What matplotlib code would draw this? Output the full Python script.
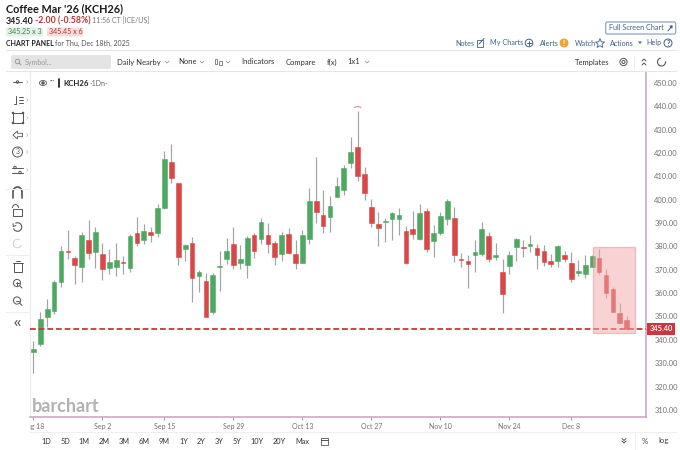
import matplotlib
matplotlib.use('Agg')
import matplotlib.pyplot as plt
from matplotlib.patches import Rectangle, FancyBboxPatch, Circle, Polygon, Arc
from matplotlib.transforms import Bbox, ScaledTranslation

plt.rcParams['font.family'] = ['Lato', 'DejaVu Sans']

GREEN = '#4fa862'
RED = '#d84848'
WICK = '#a3a3a3'
FRAME = '#c8a9c6'
NAVY = '#3f6288'
DARK = '#333333'
ICON = '#555555'

opens = [335.5, 339.0, 350.8, 353.1, 365.6, 378.9, 375.8, 371.9, 383.6, 378.6,
         377.8, 371.6, 372.2, 374.4, 371.8, 386.6, 383.5, 386.9, 386.8, 397.3,
         417.0, 407.8, 379.6, 382.5, 368.1, 366.2, 352.7, 372.1, 375.6, 381.8,
         373.9, 373.1, 385.9, 384.1, 385.6, 382.4, 377.6, 386.2, 377.5, 373.9,
         384.1, 400.3, 394.5, 393.6, 402.0, 404.9, 416.7, 423.6, 411.7, 397.8,
         390.6, 391.5, 392.8, 392.8, 387.3, 388.2, 384.1, 396.2, 383.3, 386.5,
         392.8, 393.2, 375.6, 374.6, 377.2, 377.8, 385.2, 376.3, 370.1, 372.6,
         380.5, 380.8, 381.2, 380.3, 379.1, 374.8, 374.8, 377.3, 373.9, 369.5,
         369.2, 372.2, 375.8, 368.6, 362.7, 352.2, 349.4]
highs = [340.4, 352.7, 358.4, 366.5, 380.9, 387.9, 376.8, 387.1, 392.1, 389.2,
         382.5, 379.6, 382.4, 376.8, 386.3, 393.6, 390.5, 389.3, 399.0, 421.9,
         424.7, 407.9, 381.9, 385.1, 370.8, 369.4, 369.5, 379.1, 384.6, 389.1,
         381.3, 385.3, 386.5, 393.1, 391.0, 383.1, 386.9, 388.6, 383.6, 387.8,
         405.7, 419.2, 404.9, 402.5, 410.6, 415.6, 427.6, 438.7, 414.9, 401.3,
         395.5, 393.1, 395.5, 397.3, 389.5, 396.1, 399.0, 397.2, 390.1, 395.5,
         401.3, 397.6, 378.2, 377.1, 383.5, 391.2, 386.9, 382.5, 375.6, 379.1,
         384.6, 383.6, 385.8, 382.1, 381.5, 377.5, 381.6, 378.9, 378.3, 374.9,
         377.2, 377.2, 379.6, 371.2, 363.4, 356.5, 350.9]
lows = [326.6, 338.4, 346.3, 352.0, 363.4, 375.4, 364.7, 365.6, 375.5, 371.8,
        366.4, 369.2, 368.4, 369.1, 369.8, 381.2, 382.1, 382.9, 385.1, 396.9,
        408.2, 372.8, 374.8, 357.1, 361.4, 350.5, 352.0, 361.9, 373.4, 371.1,
        371.4, 367.4, 375.9, 381.8, 378.2, 373.1, 374.6, 377.5, 371.4, 373.9,
        382.1, 390.9, 386.5, 387.1, 402.0, 402.9, 414.5, 408.7, 400.8, 389.1,
        381.2, 382.9, 383.6, 385.8, 373.5, 384.2, 383.5, 378.6, 376.4, 385.9,
        390.2, 374.4, 371.9, 363.2, 369.9, 376.8, 374.1, 375.2, 352.5, 369.2,
        374.5, 376.2, 378.6, 371.2, 372.6, 372.2, 372.2, 374.1, 365.6, 368.2,
        367.5, 372.1, 369.1, 358.9, 352.7, 347.5, 344.9]
closes = [336.8, 349.7, 354.1, 365.6, 379.1, 378.5, 373.1, 385.9, 378.2, 386.9,
          371.1, 374.4, 375.1, 373.9, 385.5, 382.5, 387.6, 385.9, 397.5, 418.3,
          410.0, 376.4, 381.6, 367.2, 369.9, 350.8, 368.5, 372.5, 378.8, 372.9,
          375.6, 384.6, 378.9, 391.5, 382.1, 376.2, 385.8, 377.9, 373.8, 385.9,
          400.3, 395.8, 389.6, 398.1, 406.8, 414.3, 421.4, 410.9, 403.7, 390.8,
          388.6, 391.8, 395.3, 394.2, 373.8, 386.2, 395.1, 379.8, 386.5, 393.8,
          400.1, 377.4, 375.1, 373.5, 378.6, 388.3, 375.6, 377.3, 360.5, 377.2,
          384.1, 380.3, 381.9, 377.2, 374.2, 373.2, 381.2, 375.5, 366.9, 370.2,
          373.1, 376.9, 369.9, 360.9, 352.8, 348.1, 345.4]

last_price = 345.40
price_ticks = [310, 320, 330, 340, 350, 360, 370, 380, 390, 400, 410, 420, 430, 440, 450]
date_pos = [0, 10, 19, 29, 39, 49, 59, 69, 78]
date_labels = ['Aug 18', 'Sep 2', 'Sep 15', 'Sep 29', 'Oct 13', 'Oct 27', 'Nov 10', 'Nov 24', 'Dec 8']
range_labels = ['1D', '5D', '1M', '2M', '3M', '6M', '9M', '1Y', '2Y', '3Y', '5Y', '10Y', '20Y', 'Max']
range_x = [46, 65, 84, 104, 124, 144, 164, 184, 201, 219, 237, 257, 279, 302]

fig = plt.figure(figsize=(6.8, 4.5), dpi=100)
ax = fig.add_axes([30/680, 33/450, 616/680, 345/450])
ax.set_xlim(-0.49, 88.8)
ax.set_ylim(307.86, 455.5)

for i in range(len(opens)):
    c = GREEN if closes[i] >= opens[i] else RED
    ax.plot([i, i], [lows[i], highs[i]], color=WICK, lw=0.85, zorder=2, solid_capstyle='butt')
    bot = min(opens[i], closes[i])
    h = abs(closes[i] - opens[i])
    ax.add_patch(Rectangle((i - 0.34, bot), 0.68, h, fc=c, ec=c, lw=0.4, zorder=3))

# last price line + highlighted box
ax.axhline(last_price, color='#d0343c', lw=1.3, ls=(0, (3.2, 1.6)), zorder=4)
ax.add_patch(Rectangle((81.1, 343.7), 6.05, 37.1, fc='#f4a9ab', ec='#e88f92', alpha=0.5, lw=1, zorder=5))
ax.add_patch(Arc((47, 439.9), 1.0, 1.6, theta1=20, theta2=160, color='#e08a8a', lw=0.8, zorder=4))

ax.yaxis.tick_right()
ax.set_yticks(price_ticks)
ax.set_yticklabels(['%.2f' % v for v in price_ticks], fontsize=5.4, color='#707070')
ax.tick_params(axis='y', length=0, pad=6)
shift_up = ScaledTranslation(0, 1.5/72, fig.dpi_scale_trans)
for lab in ax.get_yticklabels():
    lab.set_transform(lab.get_transform() + shift_up)
ax.set_xticks(date_pos)
ax.set_xticklabels(date_labels, fontsize=5, color='#707070')
ax.tick_params(axis='x', length=2, width=0.6, color='#888888', pad=2.5)
# first date runs under the left toolbar
first = ax.get_xticklabels()[0]
first.set_clip_box(Bbox.from_extents(30, 0, 646, 450))
first.set_clip_on(True)
ax.spines['top'].set_visible(False)
ax.spines['left'].set_color('#ececec')
ax.spines['right'].set_color(FRAME)
ax.spines['bottom'].set_color(FRAME)
ax.spines['right'].set_linewidth(1.2)
ax.spines['bottom'].set_linewidth(1.2)

# page furniture, drawn in picture pixels
ui = fig.add_axes([0, 0, 1, 1], zorder=10)
ui.set_xlim(0, 680)
ui.set_ylim(450, 0)
ui.axis('off')
ui.patch.set_visible(False)


def t(x, y, s, size=5.5, color=DARK, weight='normal', ha='left'):
    ui.text(x, y, s, fontsize=size, color=color, fontweight=weight, ha=ha, va='center')


def ln(xs, ys, color=ICON, lw=0.7):
    ui.plot(xs, ys, color=color, lw=lw, solid_capstyle='round')


def box(x, y, w, h, fc, ec='none', lw=0.8, r=1.5):
    ui.add_patch(FancyBboxPatch((x, y), w, h, boxstyle='round,pad=0,rounding_size=%s' % r, fc=fc, ec=ec, lw=lw))


def circ(x, y, r, color=ICON, fc='none', lw=0.7):
    ui.add_patch(Circle((x, y), r, fc=fc, ec=color, lw=lw))


def chev_down(x, y, color='#888888'):
    ln([x - 2, x, x + 2], [y - 1, y + 1, y - 1], color=color, lw=0.5)


def chev_right(y):
    ln([26.5, 28, 26.5], [y - 1.5, y, y + 1.5], color='#bbbbbb', lw=0.5)


# header
t(6, 9, "Coffee Mar '26 (KCH26)", size=7.8, color='#1a1a1a', weight='bold')
t(6, 21, '345.40', size=6.3, color='#222222', weight='bold')
t(35, 21, '-2.00 (-0.58%)', size=6.3, color='#b8322e', weight='bold')
t(92, 21, '11:56 CT [ICE/US]', size=5, color='#777777')
box(6, 27.5, 37, 9, '#e3f2e6')
box(47, 27.5, 36, 9, '#f8dcdc')
t(8, 32, '345.25 x 3', size=5.1, color='#3f7d50')
t(49, 32, '345.45 x 6', size=5.1, color='#b8322e')
t(6, 43, 'CHART PANEL', size=5, color='#222222', weight='bold')
t(55, 43, 'for Thu, Dec 18th, 2025', size=5, color='#555555')

# links top right
box(605.7, 22, 70, 12, 'white', ec='#7f9cc0', lw=0.8)
t(609, 28, 'Full Screen Chart', size=5.2, color=NAVY)
ln([668, 672, 672, 670, 672], [31, 26, 28, 26, 26], color=NAVY)
t(455, 43, 'Notes', size=5.2, color=NAVY)
ui.add_patch(Rectangle((476.5, 39.5), 6.5, 7, fc='none', ec=NAVY, lw=0.6))
ln([479, 484], [44, 38.5], color=NAVY)
t(490, 43, 'My Charts', size=5.2, color=NAVY)
circ(529, 43, 3.8, color=NAVY)
ln([527, 531], [43, 43], color=NAVY)
ln([529, 529], [41, 45], color=NAVY)
t(540, 43, 'Alerts', size=5.2, color=NAVY)
circ(564, 43, 4, color='#f0a32e', fc='#f0a32e')
t(564, 43, '!', size=5, color='white', weight='bold', ha='center')
t(575, 43, 'Watch', size=5.2, color=NAVY)
ui.add_patch(Polygon([(600, 38.5), (601.3, 41.8), (604.6, 42), (602, 44.2), (602.9, 47.5), (600, 45.7),
                      (597.1, 47.5), (598, 44.2), (595.4, 42), (598.7, 41.8)], fc='none', ec=NAVY, lw=0.6))
t(610, 43, 'Actions', size=5.2, color=NAVY)
ui.add_patch(Polygon([(638, 41.5), (642, 41.5), (640, 44)], fc=NAVY, ec='none'))
t(646, 43, 'Help', size=5.2, color=NAVY)
circ(668, 43, 4, color=NAVY)
t(668, 43, '?', size=5, color=NAVY, weight='bold', ha='center')
ln([6, 676], [50, 50], color='#e6e6e6', lw=0.8)
ln([6, 676], [71, 71], color='#e6e6e6', lw=0.8)

# toolbar
box(11, 55, 100, 14, '#e4e4e4', r=2)
circ(17.5, 61.5, 2.2, color='#999999')
ln([19, 21], [63, 65], color='#999999')
t(25, 62, 'Symbol...', size=5, color='#999999')
t(117, 62, 'Daily Nearby')
chev_down(167, 62)
t(178, 62, 'None')
chev_down(202, 62)
ui.add_patch(Rectangle((214.5, 59), 2.5, 4.5, fc='none', ec=ICON, lw=0.5))
ui.add_patch(Rectangle((219, 60.5), 2.5, 4, fc='none', ec=ICON, lw=0.5))
chev_down(228, 62)
t(241, 62, 'Indicators')
t(286, 62, 'Compare')
t(327, 62, 'f(x)')
t(347, 62, '1x1')
chev_down(367, 62)
t(575, 62, 'Templates')
circ(623.5, 62, 3.6)
circ(623.5, 62, 1.5)
ln([634, 634], [56, 68], color='#eeeeee')
ln([642, 644, 646], [61, 59, 61])
ln([642, 644, 646], [65, 63, 65])
ui.add_patch(Arc((661.5, 62), 8, 8, theta1=-10, theta2=260, color=ICON, lw=0.8))

# left drawing tools
for y in [82, 100, 118, 135, 152, 170]:
    chev_right(y)
ln([13, 22], [82, 82])
circ(17.5, 82, 1.2, fc='white')
ln([19, 23], [97, 97])
ln([19, 23], [100, 100])
ln([19, 23], [103, 103])
ln([16, 16, 13.5], [96, 104, 104])
ui.add_patch(Rectangle((13, 113), 10, 10, fc='none', ec=ICON, lw=0.7))
for cx, cy in [(13, 113), (23, 113), (13, 123), (23, 123)]:
    circ(cx, cy, 0.8, fc=ICON)
ui.add_patch(Polygon([(13, 135), (17.5, 131), (17.5, 133.3), (22.5, 133.3), (22.5, 136.7), (17.5, 136.7),
                      (17.5, 139)], fc='none', ec=ICON, lw=0.6))
circ(17.5, 152, 5)
t(17.5, 152, '3', size=5, color=ICON, ha='center')
ln([12, 23], [167.5, 167.5])
ln([12, 23], [172.5, 172.5])
circ(15, 167.5, 1.2, fc='white')
circ(20, 172.5, 1.2, fc='white')
ln([6, 29], [189, 189], color='#eeeeee', lw=0.8)
ui.add_patch(Arc((17.5, 192), 9, 10, theta1=180, theta2=360, color=ICON, lw=1.2))
ln([13, 13], [192, 198], lw=1.2)
ln([22, 22], [192, 198], lw=1.2)
ui.add_patch(Rectangle((13, 209), 9, 6.5, fc='none', ec=ICON, lw=0.7))
ui.add_patch(Arc((15.5, 208), 6, 7, theta1=180, theta2=360, color=ICON, lw=0.7))
ui.add_patch(Arc((17.5, 227), 8.5, 8.5, theta1=-120, theta2=160, color=ICON, lw=0.8))
ln([13, 13.2, 16], [223.5, 226.5, 225.5])
ui.add_patch(Arc((17.5, 243.5), 8.5, 8.5, theta1=20, theta2=300, color='#d6d6d6', lw=0.8))
ln([6, 29], [255, 255], color='#eeeeee', lw=0.8)
ui.add_patch(Rectangle((14, 263), 7.5, 8.5, fc='none', ec=ICON, lw=0.7))
ln([13, 22.5], [263, 263])
ln([16, 19.5], [261, 261])
circ(17, 283, 3.6)
ln([19.7, 22], [285.7, 288])
ln([15.5, 18.5], [283, 283])
ln([17, 17], [281.5, 284.5])
circ(17, 300.5, 3.6)
ln([19.7, 22], [303.2, 305.5])
ln([15.5, 18.5], [300.5, 300.5])
ln([6, 29], [312, 312], color='#eeeeee', lw=0.8)
ln([17, 15, 17], [320.5, 323, 325.5], lw=0.8)
ln([20, 18, 20], [320.5, 323, 325.5], lw=0.8)

# legend on chart
ui.add_patch(Arc((43, 83), 7, 5, color=ICON, lw=0.6))
circ(43, 83, 1.2, fc=ICON)
t(50, 81, '\u00b7\u00b7\u00b7', size=5, color='#666666')
ln([59, 59], [79, 87], color='#111111', lw=1.2)
t(63, 83, 'KCH26', size=5.6, color='#222222', weight='bold')
t(90, 83, '-1Dn-', size=5, color='#666666')

t(32, 407, 'barchart', size=13, color='#b2b2b2', weight='bold')

# price tag
ui.add_patch(Rectangle((647, 323.3), 28, 11.4, fc='#d0343c', ec='none'))
t(661, 328.8, '345.40', size=5.4, color='white', weight='bold', ha='center')

# bottom range buttons
ln([30, 676], [432, 432], color='#eeeeee', lw=0.8)
for x, s in zip(range_x, range_labels):
    t(x, 441, s, size=5.3, color='#333333', ha='center')
ui.add_patch(Rectangle((320.5, 437.5), 7, 7, fc='none', ec=ICON, lw=0.6))
ln([320.5, 327.5], [439.5, 439.5])
ln([622, 624, 626], [438.5, 440.5, 438.5])
ln([622, 624, 626], [441, 443, 441])
ln([635, 635], [433, 449], color='#eeeeee', lw=0.8)
t(645, 441, '%', size=5.6, color='#444444', ha='center')
t(664, 441, 'log', size=5.6, color='#444444', ha='center')

fig.savefig('out.png', dpi=100)
